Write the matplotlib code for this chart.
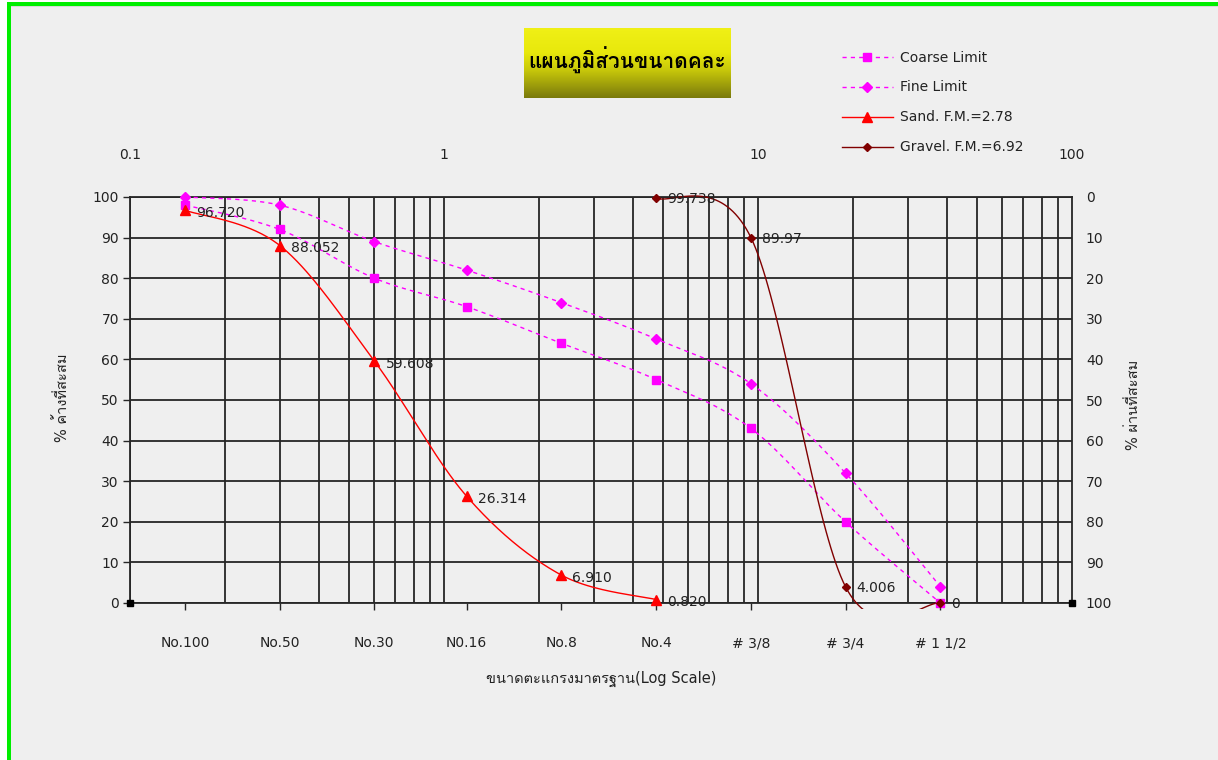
import numpy as np
import matplotlib
matplotlib.use("Agg")
import matplotlib.pyplot as plt
from matplotlib.patches import Rectangle
from matplotlib.lines import Line2D

plt.rcParams['font.family'] = ['DejaVu Sans', 'Loma']

# sieve data
sieves = ["No.100", "No.50", "No.30", "N0.16", "No.8", "No.4", "# 3/8", "# 3/4", "# 1 1/2"]
sizes = [0.15, 0.3, 0.6, 1.18, 2.36, 4.75, 9.5, 19.0, 38.1]   # mm
coarse = [98, 92, 80, 73, 64, 55, 43, 20, 0]
fine = [100, 98, 89, 82, 74, 65, 54, 32, 4]
sand = [96.720, 88.052, 59.608, 26.314, 6.910, 0.820]      # No.100 .. No.4
gravel = [99.738, 89.97, 4.006, 0]                          # No.4 .. 1 1/2
sand_x = sizes[:6]
gravel_x = sizes[5:]

top_ticks = [0.1, 1, 10, 100]
BG = "#EFEFEF"
TXT = "#222222"

W, H = 1218, 760
fig = plt.figure(figsize=(W / 100, H / 100), dpi=100, facecolor="white")
# background panel with green frame (top / left)
fig.patches.append(Rectangle((7 / W, 0), 1, 1 - 2 / H, transform=fig.transFigure,
                             facecolor="#00EE00", edgecolor="none", zorder=-3))
fig.patches.append(Rectangle((11 / W, 0), 1, 1 - 6 / H, transform=fig.transFigure,
                             facecolor="#D8D8D8", edgecolor="none", zorder=-2))
fig.patches.append(Rectangle((11 / W, 0), 1, 1 - 7 / H, transform=fig.transFigure,
                             facecolor=BG, edgecolor="none", zorder=-1))

ax = fig.add_axes([130 / W, 1 - 603 / H, (1072 - 130) / W, (603 - 197) / H])
ax.set_facecolor("none")
ax.set_xscale("log")
ax.set_xlim(0.1, 100)
ax.set_ylim(0, 100)

# grid
for k in range(-1, 2):
    ax.vlines(np.arange(1, 10) * 10.0 ** k, 0, 100, colors="#262626", lw=1.3, zorder=0)
ax.set_yticks(np.arange(0, 101, 10))
ax.yaxis.grid(True, color="#262626", lw=1.3, zorder=0)
for s in ax.spines.values():
    s.set_color("#262626")
    s.set_linewidth(1.3)

ax.tick_params(axis="y", length=5, width=1, color="#262626", labelsize=10, labelcolor=TXT, pad=3)
ax.set_xticks(sizes)
ax.set_xticklabels(sieves)
ax.xaxis.set_minor_locator(matplotlib.ticker.NullLocator())
ax.tick_params(axis="x", length=5, width=1, color="#262626", labelsize=10, labelcolor=TXT, pad=19)

top = ax.secondary_xaxis("top")
top.set_xticks(top_ticks)
top.set_xticklabels(["0.1", "1", "10", "100"])
top.xaxis.set_minor_locator(matplotlib.ticker.NullLocator())
top.tick_params(axis="x", length=0, labelsize=10, labelcolor=TXT, pad=25)
top.spines["top"].set_visible(False)

ax2 = ax.twinx()
ax2.set_ylim(100, 0)
ax2.set_yticks(np.arange(0, 101, 10))
ax2.tick_params(axis="y", length=0, labelsize=10, labelcolor=TXT, pad=10)
for s in ax2.spines.values():
    s.set_visible(False)


def smooth(xs, ys, n=40):
    pts = ax.transData.transform(np.column_stack([xs, ys]))
    p = np.vstack([pts[0], pts, pts[-1]])
    t = np.linspace(0, 1, n)[:, None]
    out = []
    for i in range(1, len(p) - 2):
        p0, p1, p2, p3 = p[i - 1], p[i], p[i + 1], p[i + 2]
        c1 = p1 + (p2 - p0) / 6
        c2 = p2 - (p3 - p1) / 6
        out.append((1 - t) ** 3 * p1 + 3 * (1 - t) ** 2 * t * c1 + 3 * (1 - t) * t ** 2 * c2 + t ** 3 * p2)
    d = ax.transData.inverted().transform(np.vstack(out))
    return d[:, 0], d[:, 1]


clip = Rectangle((0, -0.015), 1, 1.03, transform=ax.transAxes, fill=False, visible=False)
ax.add_patch(clip)

series = [
    (sizes, coarse, "#FF00FF", (0, (3, 3)), "s", 6, "Coarse Limit"),
    (sizes, fine, "#FF00FF", (0, (3, 3)), "D", 5, "Fine Limit"),
    (sand_x, sand, "#FF0000", "-", "^", 7, "Sand. F.M.=2.78"),
    (gravel_x, gravel, "#800000", "-", "D", 4.5, "Gravel. F.M.=6.92"),
]
handles = []
for xs, ys, c, ls, mk, ms, lab in series:
    sx, sy = smooth(xs, ys)
    ln, = ax.plot(sx, sy, color=c, ls=ls, lw=1, zorder=3)
    ln.set_clip_path(clip)
    ax.plot(xs, ys, ls="none", marker=mk, ms=ms, color=c, mec=c, clip_on=False, zorder=4)
    handles.append(Line2D([], [], color=c, ls=ls, lw=1, marker=mk, ms=ms, mec=c, label=lab))

# corner markers
ax.plot([0.1, 100], [0, 0], ls="none", marker="s", ms=4, color="black", clip_on=False, zorder=5)

# data labels
for x, v in zip(sand_x, sand):
    ax.annotate(f"{v:.3f}", (x, v), xytext=(8, -2), textcoords="offset points",
                fontsize=10, color=TXT, va="center", zorder=6)
for x, v in zip(gravel_x, gravel):
    ax.annotate(f"{v:g}", (x, v), xytext=(8, -1), textcoords="offset points",
                fontsize=10, color=TXT, va="center", zorder=6)

# axis titles
fig.text(601 / W, 1 - 679 / H, "ขนาดตะแกรงมาตรฐาน(Log Scale)", ha="center", va="center",
         fontsize=10.5, color=TXT)
fig.text(62 / W, 1 - 398 / H, "% ค้างที่สะสม", rotation=90, ha="center", va="center",
         fontsize=10.5, color=TXT)
fig.text(1134 / W, 1 - 405 / H, "% ผ่านที่สะสม", rotation=90, ha="center", va="center",
         fontsize=10.5, color=TXT)

# title box with gradient
tax = fig.add_axes([524 / W, 1 - 98 / H, (731 - 524) / W, 70 / H])
stops = np.array([[240, 240, 22], [232, 232, 12], [200, 200, 10], [122, 122, 12]]) / 255
pos = np.array([0, 0.35, 0.6, 1])
g = np.linspace(0, 1, 100)
grad = np.stack([np.interp(g, pos, stops[:, i]) for i in range(3)], axis=1)[:, None, :]
tax.imshow(grad, aspect="auto", extent=(0, 1, 0, 1))
tax.set_axis_off()
tax.text(0.5, 0.54, "แผนภูมิส่วนขนาดคละ", ha="center", va="center", fontsize=15,
         fontweight="bold", family=["Loma"], color="black")

fig.legend(handles=handles, loc="upper left", bbox_to_anchor=(829 / W, 1 - 38 / H),
           frameon=False, fontsize=10, handlelength=3.7, handletextpad=0.5,
           labelspacing=1.15, numpoints=1, labelcolor=TXT)

fig.savefig("out.png", dpi=100, facecolor=fig.get_facecolor())
